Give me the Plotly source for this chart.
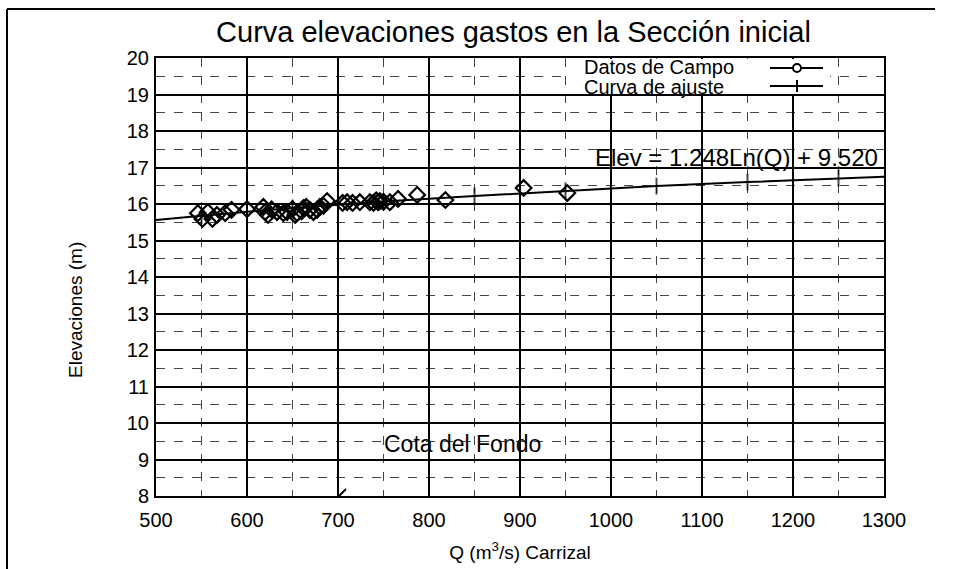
import plotly.graph_objects as go

# ---- data ----
Q_campo = [546, 551, 557, 562, 567, 576, 583, 600, 618, 620, 623, 627, 633, 640, 644,
           650, 653, 655, 660, 662, 665, 669, 673, 677, 680, 684, 688, 705, 710, 716,
           724, 735, 739, 742, 744, 746, 750, 757, 766, 787, 818, 904, 952]
E_campo = [15.75, 15.59, 15.78, 15.59, 15.70, 15.75, 15.84, 15.86, 15.92, 15.78, 15.70, 15.85,
           15.78, 15.75, 15.78, 15.86, 15.70, 15.75, 15.80, 15.89, 15.92, 15.84, 15.78, 15.84,
           15.92, 15.95, 16.08, 16.03, 16.05, 16.03, 16.05, 16.05, 16.03, 16.10, 16.05, 16.08,
           16.06, 16.05, 16.14, 16.25, 16.11, 16.44, 16.30]

Q_ajuste = [500, 550, 650, 750, 850, 950, 1050, 1150, 1250, 1300]
E_ajuste = [15.56, 15.68, 15.89, 16.07, 16.22, 16.36, 16.49, 16.60, 16.71, 16.75]
ajuste_marker_size = [0, 12, 12, 12, 12, 12, 12, 12, 12, 0]

x_ticks = [500, 600, 700, 800, 900, 1000, 1100, 1200, 1300]
y_ticks = list(range(8, 21))

titulo = "Curva elevaciones gastos en la Sección inicial"
x_titulo = "Q (m<sup>3</sup>/s) Carrizal"
y_titulo = "Elevaciones (m)"
ecuacion = "Elev = 1.248Ln(Q) + 9.520"
cota = "Cota del Fondo"
leyenda = ["Datos de Campo", "Curva de ajuste"]

FONT = "Liberation Sans, Arial, sans-serif"

# plot area in pixels (for layout-only helpers)
L, R, T, B = 156, 884, 58, 496
W, H = 961, 569


def px(xp):
    return (xp - L) / (R - L)


def py(yp):
    return (B - yp) / (B - T)


fig = go.Figure()

fig.add_trace(go.Scatter(
    x=Q_ajuste, y=E_ajuste, mode="lines+markers",
    line=dict(color="black", width=2),
    marker=dict(symbol="line-ns", size=ajuste_marker_size,
                line=dict(color="black", width=2)),
    showlegend=False, name=leyenda[1]))

fig.add_trace(go.Scatter(
    x=Q_campo, y=E_campo, mode="markers",
    marker=dict(symbol="diamond-open", size=12, color="black",
                line=dict(color="black", width=2.2)),
    showlegend=False, name=leyenda[0]))

axis_common = dict(
    showline=True, linecolor="black", linewidth=2, mirror=True,
    showgrid=True, gridcolor="black", gridwidth=1.5,
    ticks="", tickfont=dict(family=FONT, size=20, color="black"),
    zeroline=False, automargin=False,
)

fig.update_xaxes(
    range=[500, 1300], tickvals=x_ticks, ticklabelstandoff=5,
    minor=dict(dtick=50, tick0=500, showgrid=True, gridcolor="#444",
               gridwidth=1, griddash="dash"),
    title=dict(text=x_titulo, font=dict(family=FONT, size=19, color="black"),
               standoff=16),
    **axis_common)
fig.update_yaxes(
    range=[8, 20], tickvals=y_ticks, ticklabelstandoff=1,
    minor=dict(dtick=0.5, tick0=8, showgrid=True, gridcolor="#444",
               gridwidth=1, griddash="dash"),
    **axis_common)

shapes = []
# legend background and samples
shapes.append(dict(type="rect", xref="paper", yref="paper",
                   x0=px(567), x1=px(830), y0=py(94), y1=py(T + 1),
                   fillcolor="white", line=dict(width=0), layer="above"))
for yy in (68, 86):
    shapes.append(dict(type="line", xref="paper", yref="paper",
                       x0=px(770), x1=px(823), y0=py(yy), y1=py(yy),
                       line=dict(color="black", width=2)))
shapes.append(dict(type="circle", xref="paper", yref="paper",
                   x0=px(793), x1=px(801), y0=py(72), y1=py(64),
                   fillcolor="white", line=dict(color="black", width=2)))
shapes.append(dict(type="line", xref="paper", yref="paper",
                   x0=px(797), x1=px(797), y0=py(80), y1=py(92),
                   line=dict(color="black", width=2)))
# small mark near bottom
shapes.append(dict(type="line", xref="paper", yref="paper",
                   x0=px(339), x1=px(346), y0=py(496), y1=py(489),
                   line=dict(color="black", width=2)))
# outer frame (left and top edges)
shapes.append(dict(type="line", xref="paper", yref="paper",
                   x0=px(7), x1=px(7), y0=py(9), y1=py(569),
                   line=dict(color="black", width=2)))
shapes.append(dict(type="line", xref="paper", yref="paper",
                   x0=px(7), x1=px(935), y0=py(9), y1=py(9),
                   line=dict(color="black", width=2)))

annotations = [
    dict(text=y_titulo, xref="paper", yref="paper", x=px(75), y=py(310),
         xanchor="center", yanchor="middle", showarrow=False, textangle=-90,
         font=dict(family=FONT, size=19, color="black")),
    dict(text=leyenda[0], xref="paper", yref="paper", x=px(582), y=py(67),
         xanchor="left", yanchor="middle", showarrow=False,
         font=dict(family=FONT, size=20, color="black")),
    dict(text=leyenda[1], xref="paper", yref="paper", x=px(582), y=py(87),
         xanchor="left", yanchor="middle", showarrow=False,
         font=dict(family=FONT, size=20, color="black")),
    dict(text=ecuacion, xref="paper", yref="paper", x=px(736), y=py(157),
         xanchor="center", yanchor="middle", showarrow=False,
         font=dict(family=FONT, size=24, color="black")),
    dict(text=cota, xref="paper", yref="paper", x=px(462), y=py(444),
         xanchor="center", yanchor="middle", showarrow=False,
         font=dict(family=FONT, size=23, color="black")),
]

fig.update_layout(
    width=W, height=H,
    margin=dict(l=L, r=W - R, t=T, b=H - B),
    paper_bgcolor="white", plot_bgcolor="white",
    title=dict(text=titulo, x=(205 + 822) / 2 / W, xanchor="center",
               y=1 - 32 / H, yanchor="middle", automargin=False,
               font=dict(family=FONT, size=29, color="black")),
    shapes=shapes, annotations=annotations, showlegend=False,
)

fig.write_html("out.html")
